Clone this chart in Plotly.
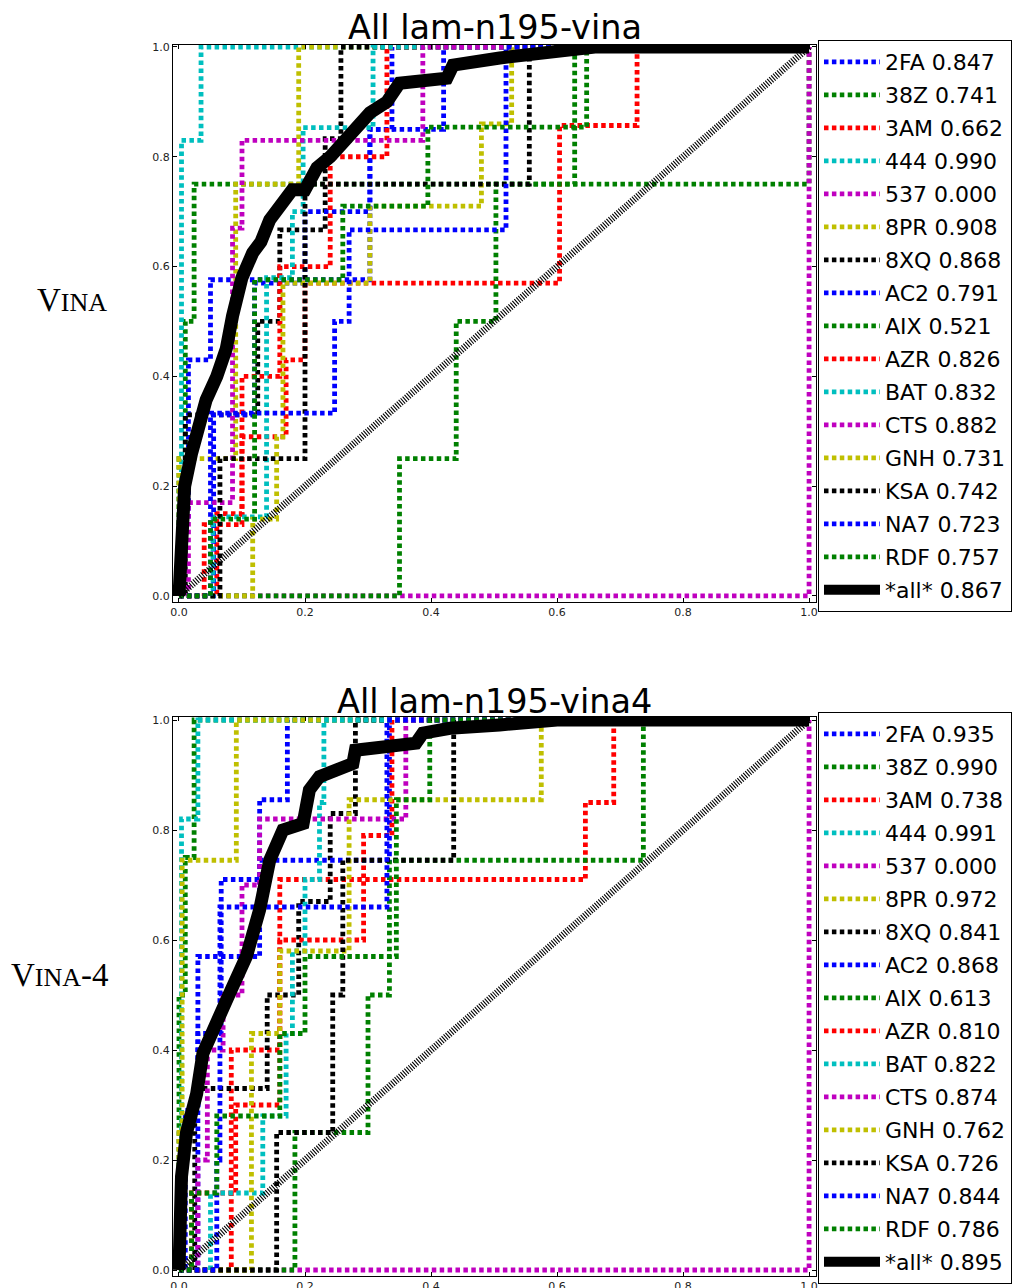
import plotly.graph_objects as go

W, H = 1012, 1288

targets = ["2FA", "38Z", "3AM", "444", "537", "8PR", "8XQ", "AC2",
           "AIX", "AZR", "BAT", "CTS", "GNH", "KSA", "NA7", "RDF"]
palette = ["#0000ff", "#008000", "#ff0000", "#00bfbf", "#bf00bf", "#bfbf00", "#000000"]

vina_auc = [0.847, 0.741, 0.662, 0.990, 0.000, 0.908, 0.868, 0.791,
            0.521, 0.826, 0.832, 0.882, 0.731, 0.742, 0.723, 0.757]
vina_all_auc = 0.867
vina4_auc = [0.935, 0.990, 0.738, 0.991, 0.000, 0.972, 0.841, 0.868,
             0.613, 0.810, 0.822, 0.874, 0.762, 0.726, 0.844, 0.786]
vina4_all_auc = 0.895

tick_vals = [0.0, 0.2, 0.4, 0.6, 0.8, 1.0]
tick_text = ["0.0", "0.2", "0.4", "0.6", "0.8", "1.0"]

# ---- panel 1 (vina): ROC vertices (FPR, TPR) ----
vina_2fa = [(0, 0), (0, 0.14), (0.015, 0.14), (0.015, 0.43), (0.05, 0.43), (0.05, 0.576), (0.303, 0.576), (0.303, 0.85), (0.338, 0.85), (0.338, 1), (1, 1)]
vina_38z = [(0, 0), (0, 0.25), (0.01, 0.25), (0.01, 0.5), (0.024, 0.5), (0.024, 0.75), (1, 0.75), (1, 1)]
vina_3am = [(0, 0), (0.06, 0), (0.06, 0.15), (0.1, 0.15), (0.1, 0.29), (0.17, 0.29), (0.17, 0.43), (0.2, 0.43), (0.2, 0.57), (0.604, 0.57), (0.604, 0.857), (0.727, 0.857), (0.727, 1), (1, 1)]
vina_444 = [(0, 0), (0, 0.2), (0.004, 0.2), (0.004, 0.83), (0.035, 0.83), (0.035, 1), (1, 1)]
vina_537 = [(0, 0), (1, 0), (1, 1)]
vina_8pr = [(0, 0), (0, 0.25), (0.09, 0.25), (0.09, 0.75), (0.19, 0.75), (0.19, 1), (1, 1)]
vina_8xq = [(0, 0), (0.01, 0), (0.01, 0.33), (0.125, 0.33), (0.125, 0.5), (0.16, 0.5), (0.16, 0.667), (0.232, 0.667), (0.232, 0.833), (0.257, 0.833), (0.257, 1), (1, 1)]
vina_ac2 = [(0, 0), (0.055, 0), (0.055, 0.33), (0.12, 0.33), (0.12, 0.57), (0.2, 0.57), (0.2, 0.7), (0.303, 0.7), (0.303, 0.85), (0.42, 0.85), (0.42, 1), (1, 1)]
vina_aix = [(0, 0), (0.35, 0), (0.35, 0.25), (0.44, 0.25), (0.44, 0.5), (0.503, 0.5), (0.503, 0.75), (0.628, 0.75), (0.628, 1), (1, 1)]
vina_azr = [(0, 0), (0.04, 0), (0.04, 0.13), (0.1, 0.13), (0.1, 0.4), (0.16, 0.4), (0.16, 0.6), (0.24, 0.6), (0.24, 0.8), (0.33, 0.8), (0.33, 1), (1, 1)]
vina_bat = [(0, 0), (0.054, 0), (0.054, 0.144), (0.139, 0.144), (0.139, 0.58), (0.18, 0.58), (0.18, 0.7), (0.197, 0.7), (0.197, 0.853), (0.308, 0.853), (0.308, 1), (1, 1)]
vina_cts = [(0, 0), (0.015, 0), (0.015, 0.17), (0.085, 0.17), (0.085, 0.67), (0.1, 0.67), (0.1, 0.83), (0.387, 0.83), (0.387, 1), (1, 1)]
vina_gnh = [(0, 0), (0.117, 0), (0.117, 0.14), (0.155, 0.14), (0.155, 0.29), (0.165, 0.29), (0.165, 0.57), (0.303, 0.57), (0.303, 0.71), (0.48, 0.71), (0.48, 0.86), (0.528, 0.86), (0.528, 1), (1, 1)]
vina_ksa = [(0, 0), (0.065, 0), (0.065, 0.25), (0.2, 0.25), (0.2, 0.75), (0.556, 0.75), (0.556, 1), (1, 1)]
vina_na7 = [(0, 0), (0.05, 0), (0.05, 0.333), (0.247, 0.333), (0.247, 0.5), (0.27, 0.5), (0.27, 0.667), (0.519, 0.667), (0.519, 1), (1, 1)]
vina_rdf = [(0, 0), (0.05, 0), (0.05, 0.14), (0.12, 0.14), (0.12, 0.576), (0.26, 0.576), (0.26, 0.71), (0.395, 0.71), (0.395, 0.854), (0.647, 0.854), (0.647, 1), (1, 1)]
vina_all = [(0, 0), (0.003, 0.1), (0.009, 0.2), (0.02, 0.26), (0.028, 0.3), (0.043, 0.357), (0.06, 0.4), (0.075, 0.45), (0.085, 0.51), (0.091, 0.54), (0.1, 0.58), (0.117, 0.625), (0.13, 0.645), (0.144, 0.685), (0.165, 0.72), (0.18, 0.74), (0.2, 0.74), (0.219, 0.78), (0.24, 0.8), (0.271, 0.843), (0.303, 0.88), (0.33, 0.9), (0.35, 0.934), (0.425, 0.943), (0.435, 0.967), (0.509, 0.98), (0.66, 1.0), (1, 1)]

# ---- panel 2 (vina4) ----
vina4_2fa = [(0, 0), (0.01, 0), (0.01, 0.29), (0.03, 0.29), (0.03, 0.57), (0.128, 0.57), (0.128, 0.855), (0.172, 0.855), (0.172, 1), (1, 1)]
vina4_38z = [(0, 0), (0, 0.5), (0.01, 0.5), (0.01, 0.75), (0.024, 0.75), (0.024, 1), (1, 1)]
vina4_3am = [(0, 0), (0.083, 0), (0.083, 0.4), (0.16, 0.4), (0.16, 0.71), (0.645, 0.71), (0.645, 0.85), (0.69, 0.85), (0.69, 1), (1, 1)]
vina4_444 = [(0, 0), (0, 0.2), (0.004, 0.2), (0.004, 0.82), (0.03, 0.82), (0.03, 1), (1, 1)]
vina4_537 = [(0, 0), (1, 0), (1, 1)]
vina4_8pr = [(0, 0), (0, 0.25), (0.005, 0.25), (0.005, 0.745), (0.091, 0.745), (0.091, 1), (1, 1)]
vina4_8xq = [(0, 0), (0.025, 0), (0.025, 0.33), (0.14, 0.33), (0.14, 0.5), (0.19, 0.5), (0.19, 0.67), (0.24, 0.67), (0.24, 0.83), (0.28, 0.83), (0.28, 1), (1, 1)]
vina4_ac2 = [(0, 0), (0.03, 0), (0.03, 0.43), (0.067, 0.43), (0.067, 0.71), (0.128, 0.71), (0.128, 0.745), (0.334, 0.745), (0.334, 1), (1, 1)]
vina4_aix = [(0, 0), (0.184, 0), (0.184, 0.25), (0.3, 0.25), (0.3, 0.5), (0.334, 0.5), (0.334, 0.745), (0.737, 0.745), (0.737, 1), (1, 1)]
vina4_azr = [(0, 0), (0.02, 0), (0.02, 0.14), (0.09, 0.14), (0.09, 0.3), (0.16, 0.3), (0.16, 0.6), (0.293, 0.6), (0.293, 0.79), (0.338, 0.79), (0.338, 1), (1, 1)]
vina4_bat = [(0, 0), (0.05, 0), (0.05, 0.14), (0.133, 0.14), (0.133, 0.28), (0.17, 0.28), (0.17, 0.43), (0.18, 0.43), (0.18, 0.58), (0.2, 0.58), (0.2, 0.71), (0.223, 0.71), (0.223, 0.85), (0.23, 0.85), (0.23, 1), (1, 1)]
vina4_cts = [(0, 0), (0.03, 0), (0.03, 0.2), (0.045, 0.2), (0.045, 0.4), (0.07, 0.4), (0.07, 0.5), (0.1, 0.5), (0.1, 0.7), (0.128, 0.7), (0.128, 0.82), (0.36, 0.82), (0.36, 1), (1, 1)]
vina4_gnh = [(0, 0), (0.115, 0), (0.115, 0.43), (0.16, 0.43), (0.16, 0.58), (0.27, 0.58), (0.27, 0.855), (0.575, 0.855), (0.575, 1), (1, 1)]
vina4_ksa = [(0, 0), (0.155, 0), (0.155, 0.25), (0.244, 0.25), (0.244, 0.5), (0.26, 0.5), (0.26, 0.745), (0.436, 0.745), (0.436, 1), (1, 1)]
vina4_na7 = [(0, 0), (0.06, 0), (0.06, 0.2), (0.065, 0.2), (0.065, 0.66), (0.33, 0.66), (0.33, 1), (1, 1)]
vina4_rdf = [(0, 0), (0.02, 0), (0.02, 0.14), (0.06, 0.14), (0.06, 0.28), (0.16, 0.28), (0.16, 0.43), (0.2, 0.43), (0.2, 0.57), (0.345, 0.57), (0.345, 0.855), (0.398, 0.855), (0.398, 1), (1, 1)]
vina4_all = [(0, 0), (0.0, 0.08), (0.004, 0.17), (0.012, 0.25), (0.028, 0.32), (0.038, 0.394), (0.054, 0.44), (0.075, 0.49), (0.083, 0.51), (0.107, 0.57), (0.128, 0.655), (0.144, 0.745), (0.165, 0.8), (0.197, 0.812), (0.207, 0.873), (0.223, 0.897), (0.25, 0.909), (0.276, 0.921), (0.28, 0.945), (0.329, 0.952), (0.376, 0.958), (0.387, 0.976), (0.43, 0.985), (0.509, 0.991), (0.6, 1.0), (1, 1)]

vina_curves = [vina_2fa, vina_38z, vina_3am, vina_444, vina_537, vina_8pr, vina_8xq, vina_ac2,
               vina_aix, vina_azr, vina_bat, vina_cts, vina_gnh, vina_ksa, vina_na7, vina_rdf]
vina4_curves = [vina4_2fa, vina4_38z, vina4_3am, vina4_444, vina4_537, vina4_8pr, vina4_8xq, vina4_ac2,
                vina4_aix, vina4_azr, vina4_bat, vina4_cts, vina4_gnh, vina4_ksa, vina4_na7, vina4_rdf]

panels = [
    dict(curves=vina_curves, aucs=vina_auc, all_pts=vina_all, all_auc=vina_all_auc,
         xa="x", ya="y", legend="legend"),
    dict(curves=vina4_curves, aucs=vina4_auc, all_pts=vina4_all, all_auc=vina4_all_auc,
         xa="x2", ya="y2", legend="legend2"),
]

fig = go.Figure()
for p in panels:
    for i, (name, pts, auc) in enumerate(zip(targets, p["curves"], p["aucs"])):
        fig.add_trace(go.Scatter(
            x=[a for a, b in pts], y=[b for a, b in pts], mode="lines",
            line=dict(color=palette[i % len(palette)], width=4.8, dash="4.5px,3.4px"),
            name=f"{name} {auc:.3f}", legend=p["legend"], legendgroup=p["legend"] + name,
            xaxis=p["xa"], yaxis=p["ya"], hoverinfo="skip"))
    fig.add_trace(go.Scatter(
        x=[0, 1], y=[0, 1], mode="lines",
        line=dict(color="#000000", width=7, dash="1.1px,1.5px"),
        showlegend=False, xaxis=p["xa"], yaxis=p["ya"], hoverinfo="skip"))
    fig.add_trace(go.Scatter(
        x=[a for a, b in p["all_pts"]], y=[b for a, b in p["all_pts"]], mode="lines",
        line=dict(color="#000000", width=13),
        name=f"*all* {p['all_auc']:.3f}", legend=p["legend"], legendgroup=p["legend"] + "all",
        xaxis=p["xa"], yaxis=p["ya"], hoverinfo="skip"))

xdom = [173 / W, 816 / W]
ydom1 = [1 - 602 / H, 1 - 45 / H]
ydom2 = [1 - 1276 / H, 1 - 717 / H]

axis_common = dict(showline=True, linecolor="#000000", linewidth=1, mirror="ticks",
                   ticks="inside", ticklen=4, tickwidth=1, tickcolor="#000000",
                   tickvals=tick_vals, ticktext=tick_text,
                   tickfont=dict(family="DejaVu Sans", size=11, color="#222222"),
                   showgrid=False, zeroline=False, fixedrange=True)

legend_common = dict(xanchor="left", yanchor="top", bgcolor="white",
                     bordercolor="#000000", borderwidth=1, itemwidth=56,
                     font=dict(family="DejaVu Sans", size=22, color="#000000"),
                     traceorder="grouped", tracegroupgap=1.4)

fig.update_layout(
    width=W, height=H,
    margin=dict(l=0, r=0, t=0, b=0, autoexpand=False),
    paper_bgcolor="white", plot_bgcolor="white",
    xaxis=dict(domain=xdom, range=[-0.0095, 1.011], anchor="y", **axis_common),
    yaxis=dict(domain=ydom1, range=[-0.011, 1.0036], anchor="x", **axis_common),
    xaxis2=dict(domain=xdom, range=[-0.0095, 1.011], anchor="y2", **axis_common),
    yaxis2=dict(domain=ydom2, range=[-0.0109, 1.0055], anchor="x2", **axis_common),
    legend=dict(x=818 / W, y=1 - 40 / H, **legend_common),
    legend2=dict(x=818 / W, y=1 - 712 / H, **legend_common),
    showlegend=True,
)

titles = [("All lam-n195-vina", 28), ("All lam-n195-vina4", 701)]
for text, py in titles:
    fig.add_annotation(text=text, x=494.5 / W, y=1 - py / H, xref="paper", yref="paper",
                       xanchor="center", yanchor="middle", showarrow=False,
                       font=dict(family="DejaVu Sans", size=33.5, color="#000000"))

row_labels = [("V<span style='font-size:26px'>INA</span>", 72, 300),
              ("V<span style='font-size:26px'>INA</span>-4", 60, 975)]
for text, px, py in row_labels:
    fig.add_annotation(text=text, x=px / W, y=1 - py / H, xref="paper", yref="paper",
                       xanchor="center", yanchor="middle", showarrow=False,
                       font=dict(family="Liberation Serif", size=33, color="#000000"))

fig.write_html(
    "out.html",
    config={"displayModeBar": False},
    post_script="document.body.style.margin='0';document.body.style.padding='0';"
                "document.documentElement.style.overflow='hidden';",
)
